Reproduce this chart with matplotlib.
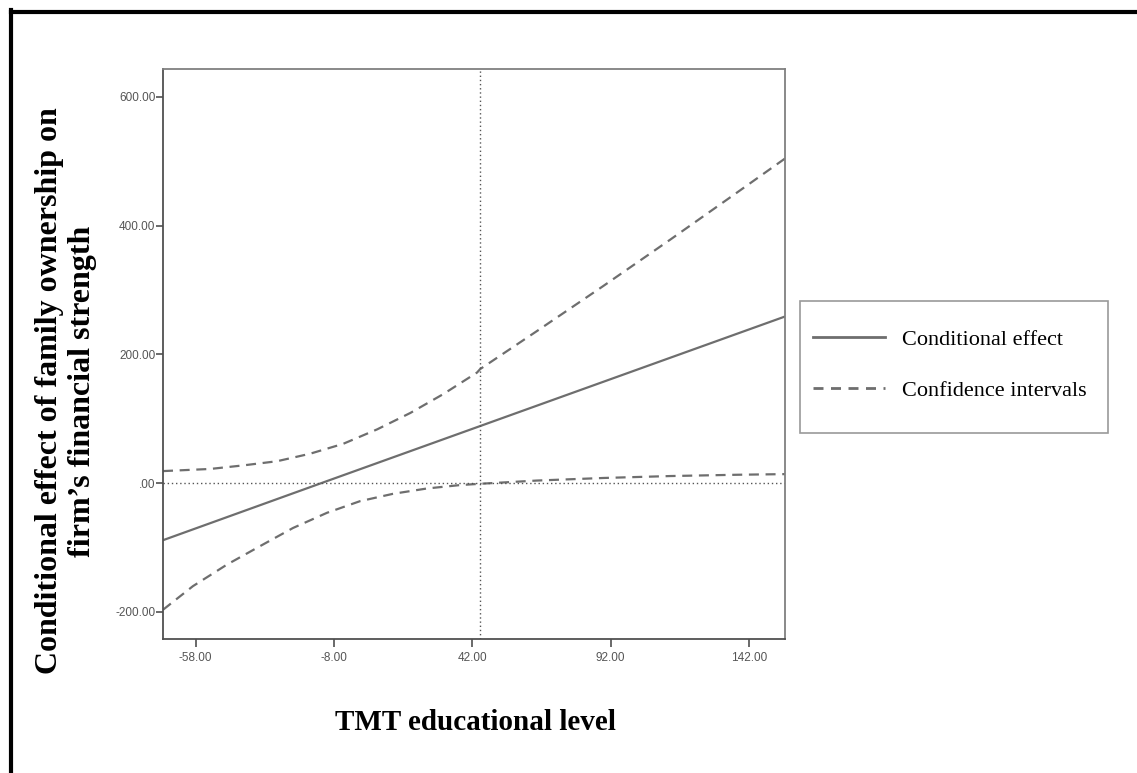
import matplotlib
matplotlib.use("Agg")
import matplotlib.pyplot as plt
from matplotlib.lines import Line2D
from matplotlib.patches import Rectangle

# ---- data ----
effect_x = [-69.8, -12.6, 44.8, 155.0]
effect_y = [-88.6, 0.0, 88.6, 258.7]

upper_x = [-69.8, -52.8, -40.9, -28.6, -16.7, -4.7, 7.6, 19.6, 31.4, 43.7, 44.8, 65.3, 89.3, 113.5, 137.6, 155.0]
upper_y = [18.7, 22.0, 27.5, 34.0, 45.6, 61.0, 83.5, 109.0, 138.0, 171.7, 177.0, 236.0, 306.0, 378.0, 451.0, 504.0]

lower_x = [-69.8, -59.0, -46.7, -34.8, -22.8, -10.5, 1.4, 13.3, 25.6, 37.6, 44.8, 65.3, 89.3, 113.5, 137.6, 155.0]
lower_y = [-196.6, -160.0, -126.5, -98.0, -69.6, -46.0, -28.0, -16.6, -8.3, -3.0, -1.0, 4.0, 8.0, 11.0, 13.0, 14.0]

x_ticks = [-58, -8, 42, 92, 142]
y_ticks = [-200, 0, 200, 400, 600]
x_ticklabels = ["-58.00", "-8.00", "42.00", "92.00", "142.00"]
y_ticklabels = ["-200.00", ".00", "200.00", "400.00", "600.00"]
mean_x = 44.8

W, H = 1137, 773
fig = plt.figure(figsize=(W / 100, H / 100), dpi=100)
fig.patch.set_facecolor("white")

ax = fig.add_axes([163 / W, 1 - 639 / H, (785 - 163) / W, (639 - 69) / H])
ax.set_xlim(-69.8, 155)
ax.set_ylim(-242, 643)

line_col = "#6e6e6e"
dash = (4.5, 3.0)
ax.plot(effect_x, effect_y, color=line_col, lw=1.6, solid_capstyle="butt")
ax.plot(upper_x, upper_y, color=line_col, lw=1.6, dashes=dash)
ax.plot(lower_x, lower_y, color=line_col, lw=1.6, dashes=dash)

ax.axhline(0, color="#555555", lw=1.0, linestyle=(0, (1, 2)))
ax.axvline(mean_x, color="#555555", lw=1.0, linestyle=(0, (1, 2)))

for side in ["right", "top"]:
    ax.spines[side].set_color("#808080")
    ax.spines[side].set_linewidth(1.3)
for side in ["left", "bottom"]:
    ax.spines[side].set_color("#505050")
    ax.spines[side].set_linewidth(1.3)

ax.set_xticks(x_ticks)
ax.set_xticklabels(x_ticklabels)
ax.set_yticks(y_ticks)
ax.set_yticklabels(y_ticklabels)
ax.tick_params(axis="both", direction="out", length=5, width=1.2, color="#505050",
               labelsize=8.5, labelcolor="#555555")
ax.tick_params(axis="y", pad=0.5)
ax.tick_params(axis="x", pad=4, length=5.5)
for lab in ax.get_xticklabels() + ax.get_yticklabels():
    lab.set_family(["Liberation Sans", "DejaVu Sans"])

# axis titles
serif = ["Liberation Serif", "DejaVu Serif"]
fig.text(66 / W, 1 - 391 / H, "Conditional effect of family ownership on\nfirm\u2019s financial strength",
         rotation=90, ha="center", va="center", fontsize=23, fontweight="bold",
         family=serif, linespacing=1.22)
fig.text(475 / W, 1 - 722 / H, "TMT educational level", ha="center", va="center",
         fontsize=21, fontweight="bold", family=serif)

# legend
fig.add_artist(Rectangle((800 / W, 1 - 433 / H), (1108 - 800) / W, (433 - 301) / H,
                         transform=fig.transFigure, facecolor="white",
                         edgecolor="#9a9a9a", lw=1.2))
handles = [Line2D([], [], color=line_col, lw=2.0),
           Line2D([], [], color=line_col, lw=2.0, dashes=(3.6, 2.7))]
leg = fig.legend(handles, ["Conditional effect", "Confidence intervals"],
                 loc="center left", bbox_to_anchor=(813 / W, 1 - 365 / H),
                 prop={"family": "Liberation Serif", "size": 16},
                 frameon=False, handlelength=3.25, handletextpad=0.75,
                 labelspacing=1.35, borderpad=0, borderaxespad=0)

# outer frame (left and top edges)
fig.add_artist(Line2D([11 / W, 11 / W], [0, 1 - 10 / H], transform=fig.transFigure,
                      color="black", lw=3.0, solid_capstyle="projecting"))
fig.add_artist(Line2D([11 / W, 1], [1 - 11.5 / H, 1 - 11.5 / H], transform=fig.transFigure,
                      color="black", lw=3.0, solid_capstyle="projecting"))

fig.savefig("out.png", dpi=100, facecolor="white")
